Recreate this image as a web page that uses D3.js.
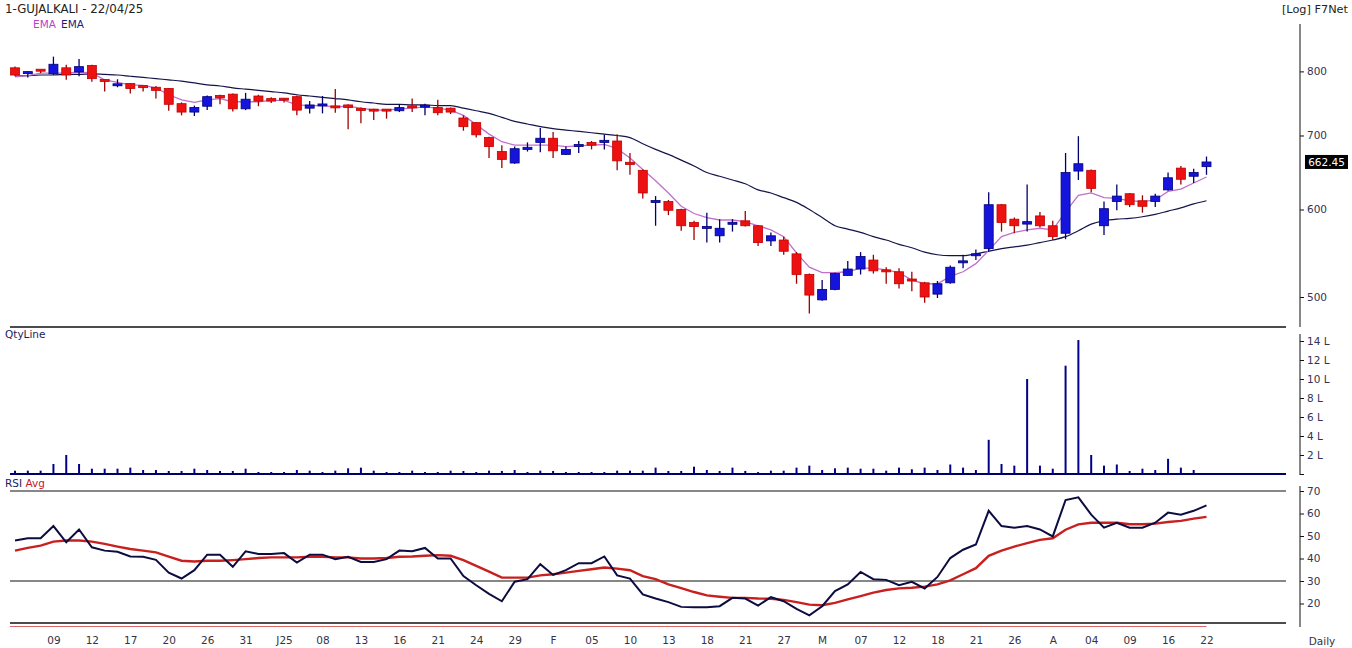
<!DOCTYPE html>
<html><head><meta charset="utf-8">
<script src="https://cdn.jsdelivr.net/npm/d3@7"></script>
<style>
html,body{margin:0;padding:0;background:#fff;}
svg{display:block;font-family:"DejaVu Sans",Verdana,sans-serif;}
</style></head><body>
<svg id="chart" width="1352" height="648"></svg>
<script>
const title = "1-GUJALKALI - 22/04/25";
const dates = [
"2024-12-04","2024-12-05","2024-12-06","2024-12-09","2024-12-10","2024-12-11","2024-12-12","2024-12-13","2024-12-16","2024-12-17",
"2024-12-18","2024-12-19","2024-12-20","2024-12-23","2024-12-24","2024-12-26","2024-12-27","2024-12-30","2024-12-31","2025-01-01",
"2025-01-02","2025-01-03","2025-01-06","2025-01-07","2025-01-08","2025-01-09","2025-01-10","2025-01-13","2025-01-14","2025-01-15",
"2025-01-16","2025-01-17","2025-01-20","2025-01-21","2025-01-22","2025-01-23","2025-01-24","2025-01-27","2025-01-28","2025-01-29",
"2025-01-30","2025-01-31","2025-02-01","2025-02-03","2025-02-04","2025-02-05","2025-02-06","2025-02-07","2025-02-10","2025-02-11",
"2025-02-12","2025-02-13","2025-02-14","2025-02-17","2025-02-18","2025-02-19","2025-02-20","2025-02-21","2025-02-24","2025-02-25",
"2025-02-27","2025-02-28","2025-03-03","2025-03-04","2025-03-05","2025-03-06","2025-03-07","2025-03-10","2025-03-11","2025-03-12",
"2025-03-13","2025-03-17","2025-03-18","2025-03-19","2025-03-20","2025-03-21","2025-03-24","2025-03-25","2025-03-26","2025-03-27",
"2025-03-28","2025-04-01","2025-04-02","2025-04-03","2025-04-04","2025-04-07","2025-04-08","2025-04-09","2025-04-11","2025-04-15",
"2025-04-16","2025-04-17","2025-04-21","2025-04-22"];
const open = [806,797,802,796,806,799,810,785,775,780, 775,774,772,748,735,744,761,763,740,760,
 756,755,759,741,745,743,746,739,738,738, 737,743,743,742,741,726,719,697,677,661,
 680,690,696,673,684,690,690,692,662,651, 608,610,600,584,576,568,581,586,580,562,
 563,547,524,497,508,523,530,540,528,527, 518,515,503,515,536,544,553,606,588,582,
 592,580,571,650,651,580,610,620,611,610, 625,654,643,656];
const high = [808,800,803,825,811,821,811,786,787,781, 775,776,773,750,745,761,762,764,765,762,
 758,757,761,752,760,771,747,742,740,738, 747,756,748,754,742,730,720,698,686,684,
 690,711,705,684,692,692,701,702,675,652, 617,612,601,586,596,588,588,598,581,572,
 567,549,525,518,526,539,549,546,532,531, 527,516,517,534,546,552,622,607,590,632,
 597,586,675,699,652,610,632,621,618,620, 648,657,653,670];
const low = [792,790,797,794,786,792,783,767,774,764, 767,756,737,730,729,738,747,736,738,744,
 749,750,730,733,733,734,709,718,723,725, 735,735,730,730,732,707,697,668,654,660,
 677,676,668,672,675,680,680,651,645,614, 580,593,574,563,560,560,573,579,556,556,
 546,514,483,496,507,523,524,525,514,509, 506,494,499,514,531,540,549,573,571,573,
 578,563,564,638,622,569,599,603,596,603, 624,632,634,645];
const close = [794,798,799,812,794,808,788,783,778,772, 773,769,747,735,742,759,757,740,755,752,
 752,753,738,746,746,740,742,737,735,736, 742,741,744,734,735,713,701,684,666,681,
 683,696,678,680,687,686,693,664,659,621, 610,599,580,579,578,577,583,580,560,568,
 550,524,502,508,525,530,544,528,526,514, 516,500,514,532,538,546,606,584,580,585,
 580,567,648,660,627,601,617,606,604,617, 641,639,648,662.45];
const emaShort = [791,793,797,797,797,799,797,786,782,778, 777,773,762,754,750,754,756,751,751,751,
 753,753,746,745,745,743,744,741,738,738, 740,741,743,741,738,730,716,702,691,686,
 686,686,686,684,685,686,687,681,668,652, 637,621,604,595,590,587,587,585,580,575,
 567,548,532,526,526,527,531,531,529,526, 518,514,514,522,527,536,551,567,572,575,
 577,575,597,618,621,615,614,611,610,612, 623,626,634,642];
const emaLong = [792,793,794,794,795,795,796,795,794,792, 790,788,786,784,781,778,776,773,771,769,
 767,765,762,760,758,756,754,751,749,747, 747,746,746,745,745,741,737,733,727,721,
 717,713,710,708,706,704,702,700,697,688, 680,673,665,657,648,643,638,633,625,621,
 615,609,600,590,580,576,572,567,563,558, 554,549,546,545,545,547,550,553,555,557,
 560,563,567,574,582,586,588,589,591,594, 598,602,607,611];
const volumeL = [0.35,0.35,0.35,1.05,2.0,1.05,0.56,0.56,0.56,0.67, 0.42,0.42,0.32,0.32,0.56,0.42,0.32,0.32,0.56,0.21,
 0.21,0.21,0.42,0.35,0.21,0.35,0.6,0.67,0.35,0.21, 0.21,0.35,0.21,0.21,0.35,0.32,0.21,0.35,0.32,0.42,
 0.21,0.35,0.32,0.21,0.21,0.21,0.21,0.35,0.35,0.35, 0.67,0.32,0.32,0.77,0.42,0.32,0.67,0.32,0.2,0.35,
 0.35,0.67,0.88,0.42,0.6,0.67,0.56,0.56,0.35,0.67, 0.5,0.67,0.42,1.0,0.67,0.42,3.6,1.05,0.88,10.0,
 0.88,0.56,11.4,14.1,2.0,0.88,1.0,0.32,0.56,0.42, 1.6,0.67,0.42,0];
const rsi = [48.0,49.0,49.0,54.4,47.2,52.9,45.0,43.5,43.0,40.9, 40.8,39.4,33.7,31.1,34.8,41.7,41.7,36.3,43.2,42.0,
 42.0,42.4,38.2,41.7,41.7,39.7,40.8,38.5,38.5,39.7, 43.5,43.2,44.7,40.0,40.0,32.2,28.1,24.3,21.0,29.7,
 30.8,37.5,32.7,34.8,37.9,37.9,40.9,32.5,31.1,24.0, 22.2,20.6,18.5,18.3,18.3,18.8,22.5,22.2,19.1,22.8,
 21.0,17.6,14.7,18.8,25.5,28.5,34.0,30.8,30.5,28.1, 29.6,26.7,31.8,40.2,43.9,46.2,61.2,54.4,53.7,54.4,
 52.9,49.8,66.0,67.2,59.5,53.7,55.9,53.7,53.7,55.9, 60.4,59.5,61.2,63.6];
const rsiAvg = [43.5,44.7,45.7,47.5,48.0,48.0,47.5,46.5,45.3,44.2, 43.5,42.7,40.8,39.0,38.7,39.0,39.0,39.3,39.7,40.2,
 40.5,40.5,40.5,40.8,40.8,40.5,40.5,40.0,40.0,40.2, 40.8,40.9,41.2,41.5,41.2,39.3,36.7,34.2,31.5,31.5,
 31.5,32.5,33.0,33.7,34.5,35.2,36.0,35.5,34.8,32.2, 30.8,28.5,26.8,25.1,23.6,23.0,22.5,22.5,22.2,22.1,
 21.6,20.6,19.5,19.2,20.3,21.8,23.3,24.8,26.0,26.7, 27.0,27.5,28.5,30.3,33.0,35.7,41.2,43.5,45.3,46.8,
 48.3,49.0,52.8,55.2,55.9,55.9,55.9,55.2,55.2,55.5, 56.2,56.7,57.7,58.5];
const tickDates = ["2024-12-09","2024-12-12","2024-12-17","2024-12-20","2024-12-26","2024-12-31","2025-01-03","2025-01-08","2025-01-13","2025-01-16",
 "2025-01-21","2025-01-24","2025-01-29","2025-02-01","2025-02-05","2025-02-10","2025-02-13","2025-02-18","2025-02-21","2025-02-27",
 "2025-03-04","2025-03-07","2025-03-12","2025-03-18","2025-03-21","2025-03-26","2025-04-01","2025-04-04","2025-04-09","2025-04-16","2025-04-22"];
const tickLabels = ["09","12","17","20","26","31","J25","08","13","16","21","24","29","F","05","10","13","18","21","27","M","07","12","18","21","26","A","04","09","16","22"];
const priceTicks = [500,600,700,800];
const volumeTicks = [0,2,4,6,8,10,12,14];
const rsiTicks = [20,30,40,50,60,70];

const bars = dates.map((d,i)=>({d, o:open[i], h:high[i], l:low[i], c:close[i], v:volumeL[i], es:emaShort[i], el:emaLong[i], r:rsi[i], ra:rsiAvg[i]}));

const svg = d3.select("#chart");
const FONT = "DejaVu Sans, Verdana, sans-serif";
const L = 10, R = 1286, AX = 1300;
const x = d3.scalePoint().domain(dates).range([15, 1206.5]);
const yP = d3.scaleLog().domain([500, 800]).range([297, 71.4]);
const yV = d3.scaleLinear().domain([0, 14]).range([474, 341]);
const yR = d3.scaleLinear().domain([30, 70]).range([581, 491]);

// header texts
svg.append("text").attr("x",5).attr("y",12.5).attr("font-size",11.8).attr("fill","#222").text(title);
svg.append("text").attr("x",33).attr("y",27.5).attr("font-size",10.5).attr("fill","#c040c8").text("EMA");
svg.append("text").attr("x",61).attr("y",27.5).attr("font-size",10.5).attr("fill","#1c1c80").text("EMA");
svg.append("text").attr("x",1348).attr("y",13).attr("text-anchor","end").attr("font-size",11.3).attr("fill","#222").text("[Log] F7Net");

// panel frame lines
svg.append("line").attr("x1",L).attr("x2",R).attr("y1",327).attr("y2",327).attr("stroke","#111").attr("stroke-width",1.6);
svg.append("line").attr("x1",AX).attr("x2",AX).attr("y1",24).attr("y2",327).attr("stroke","#111");
svg.append("line").attr("x1",AX).attr("x2",AX).attr("y1",334).attr("y2",475).attr("stroke","#111");
svg.append("line").attr("x1",AX).attr("x2",AX).attr("y1",486).attr("y2",627).attr("stroke","#111");

// EMA lines
const lineS = d3.line().x(d=>x(d.d)).y(d=>yP(d.es));
const lineL = d3.line().x(d=>x(d.d)).y(d=>yP(d.el)).curve(d3.curveMonotoneX);
svg.append("path").datum(bars).attr("d",lineL).attr("fill","none").attr("stroke","#14144a").attr("stroke-width",1.2);
svg.append("path").datum(bars).attr("d",lineS).attr("fill","none").attr("stroke","#c070cc").attr("stroke-width",1.3);

// candles
const cg = svg.append("g");
const cw = 9;
cg.selectAll("line.wick").data(bars).join("line").attr("class","wick")
  .attr("x1",d=>x(d.d)).attr("x2",d=>x(d.d))
  .attr("y1",d=>yP(d.h)).attr("y2",d=>yP(d.l))
  .attr("stroke",d=>d.c>=d.o?"#00006e":"#a00000").attr("stroke-width",1.3);
cg.selectAll("rect.body").data(bars).join("rect").attr("class","body")
  .attr("x",d=>x(d.d)-cw/2).attr("width",cw)
  .attr("y",d=>Math.min(yP(d.o),yP(d.c)) - (Math.abs(yP(d.o)-yP(d.c))<2 ? 1 : 0))
  .attr("height",d=>Math.max(2,Math.abs(yP(d.o)-yP(d.c))))
  .attr("fill",d=>d.c>=d.o?"#1414dc":"#ee1111")
  .attr("stroke",d=>d.c>=d.o?"#00007a":"#c00000").attr("stroke-width",0.8);

// price axis
const gP = svg.append("g").attr("transform",`translate(${AX},0)`)
  .call(d3.axisRight(yP).tickValues(priceTicks).tickSize(4).tickPadding(3).tickFormat(d3.format("d")));
gP.select(".domain").remove();
gP.attr("font-family",FONT).attr("font-size",10.5);
gP.selectAll("text").attr("fill","#333355");
gP.selectAll("line").attr("stroke","#111");

// last price label
const last = bars[bars.length-1];
const ly = yP(last.c);
svg.append("rect").attr("x",1305).attr("y",ly-7).attr("width",43).attr("height",14).attr("fill","#000");
svg.append("text").attr("x",1326.5).attr("y",ly+4).attr("text-anchor","middle").attr("font-size",10.5).attr("fill","#fff").text(d3.format(".2f")(last.c));

// Volume panel
svg.append("text").attr("x",5).attr("y",338).attr("font-size",10.5).attr("fill","#1c1c5a").text("QtyLine");
svg.append("g").selectAll("line").data(bars.filter(d=>d.v>0)).join("line")
  .attr("x1",d=>x(d.d)).attr("x2",d=>x(d.d))
  .attr("y1",yV(0)).attr("y2",d=>yV(d.v))
  .attr("stroke","#000088").attr("stroke-width",2);
svg.append("line").attr("x1",L).attr("x2",R).attr("y1",yV(0)).attr("y2",yV(0)).attr("stroke","#000066").attr("stroke-width",2.2);
const gV = svg.append("g").attr("transform",`translate(${AX},0)`)
  .call(d3.axisRight(yV).tickValues(volumeTicks).tickSize(4).tickPadding(3).tickFormat(d=>d? d+" L":""));
gV.select(".domain").remove();
gV.attr("font-family",FONT).attr("font-size",10.5);
gV.selectAll("text").attr("fill","#333355");
gV.selectAll("line").attr("stroke","#111");

// RSI panel
const rl = svg.append("text").attr("x",5).attr("y",487).attr("font-size",10.5);
rl.append("tspan").attr("fill","#1c1c5a").text("RSI ");
rl.append("tspan").attr("fill","#c8201e").text("Avg");
[70,30].forEach(v=>{
  svg.append("line").attr("x1",L).attr("x2",R).attr("y1",yR(v)).attr("y2",yR(v)).attr("stroke","#111").attr("stroke-width",1.1);
});
svg.append("line").attr("x1",L).attr("x2",R).attr("y1",623).attr("y2",623).attr("stroke","#111").attr("stroke-width",1.5);
svg.append("line").attr("x1",L).attr("x2",x(last.d)).attr("y1",626.5).attr("y2",626.5).attr("stroke","#d04040").attr("stroke-width",0.8);
const lineRA = d3.line().x(d=>x(d.d)).y(d=>yR(d.ra));
const lineR = d3.line().x(d=>x(d.d)).y(d=>yR(d.r));
svg.append("path").datum(bars).attr("d",lineRA).attr("fill","none").attr("stroke","#c8201e").attr("stroke-width",2.4);
svg.append("path").datum(bars).attr("d",lineR).attr("fill","none").attr("stroke","#0c0c40").attr("stroke-width",2);
const gR = svg.append("g").attr("transform",`translate(${AX},0)`)
  .call(d3.axisRight(yR).tickValues(rsiTicks).tickSize(4).tickPadding(3));
gR.select(".domain").remove();
gR.attr("font-family",FONT).attr("font-size",10.5);
gR.selectAll("text").attr("fill","#333355");
gR.selectAll("line").attr("stroke","#111");

// date axis
const gX = svg.append("g").attr("transform","translate(0,634)")
  .call(d3.axisBottom(x).tickValues(tickDates).tickSize(0).tickPadding(3).tickFormat((d,i)=>tickLabels[i]));
gX.select(".domain").remove();
gX.attr("font-family",FONT).attr("font-size",10.5);
gX.selectAll("text").attr("fill","#333344");
svg.append("text").attr("x",1322).attr("y",644.5).attr("text-anchor","middle").attr("font-size",10.5).attr("fill","#333344").text("Daily");
</script>
</body></html>
